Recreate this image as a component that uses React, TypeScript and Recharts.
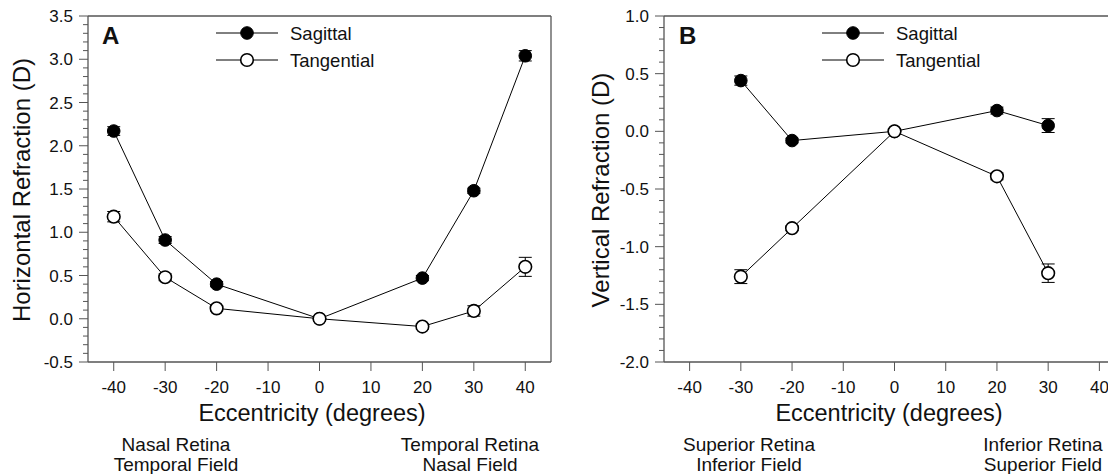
import React from 'react';
import { LineChart, Line, XAxis, YAxis, ErrorBar, ReferenceLine } from 'recharts';

const FONT = '"Liberation Sans", Arial, Helvetica, sans-serif';
const AXIS = '#555555';
const INK = '#111111';

// Panel A: horizontal refraction
const eccentricityA = [-40, -30, -20, 0, 20, 30, 40];
const sagittalA = [2.17, 0.91, 0.4, 0.0, 0.47, 1.48, 3.04];
const sagittalAErr = [0.05, 0.04, 0.03, 0.01, 0.03, 0.03, 0.06];
const tangentialA = [1.18, 0.48, 0.12, 0.0, -0.09, 0.09, 0.6];
const tangentialAErr = [0.06, 0.04, 0.03, 0.02, 0.03, 0.06, 0.11];

// Panel B: vertical refraction
const eccentricityB = [-30, -20, 0, 20, 30];
const sagittalB = [0.44, -0.08, 0.0, 0.18, 0.05];
const sagittalBErr = [0.04, 0.02, 0.01, 0.03, 0.06];
const tangentialB = [-1.26, -0.84, 0.0, -0.39, -1.23];
const tangentialBErr = [0.06, 0.02, 0.02, 0.03, 0.08];

const xTicks = [-40, -30, -20, -10, 0, 10, 20, 30, 40];
const yTicksA = [
  3.5, 3.4, 3.3, 3.2, 3.1, 3.0, 2.9, 2.8, 2.7, 2.6, 2.5, 2.4, 2.3, 2.2, 2.1, 2.0,
  1.9, 1.8, 1.7, 1.6, 1.5, 1.4, 1.3, 1.2, 1.1, 1.0, 0.9, 0.8, 0.7, 0.6, 0.5, 0.4,
  0.3, 0.2, 0.1, 0.0, -0.1, -0.2, -0.3, -0.4, -0.5,
];
const yTicksB = [
  1.0, 0.9, 0.8, 0.7, 0.6, 0.5, 0.4, 0.3, 0.2, 0.1, 0.0, -0.1, -0.2, -0.3, -0.4, -0.5,
  -0.6, -0.7, -0.8, -0.9, -1.0, -1.1, -1.2, -1.3, -1.4, -1.5, -1.6, -1.7, -1.8, -1.9, -2.0,
];

const buildRows = (ecc: number[], s: number[], se: number[], t: number[], te: number[]) =>
  ecc.map((x, i) => ({ x, sag: s[i], sagErr: se[i], tan: t[i], tanErr: te[i] }));

const dataA = buildRows(eccentricityA, sagittalA, sagittalAErr, tangentialA, tangentialAErr);
const dataB = buildRows(eccentricityB, sagittalB, sagittalBErr, tangentialB, tangentialBErr);

const YTick = (props: any) => {
  const { x, y, payload } = props;
  const v = Number(payload.value);
  const major = Math.abs(v * 2 - Math.round(v * 2)) < 1e-6;
  return (
    <g>
      <line x1={x - (major ? 9 : 5)} x2={x} y1={y} y2={y} stroke={AXIS} strokeWidth={1} />
      {major && (
        <text x={x - 15} y={y} dy={6} textAnchor="end" fontSize={17} fontFamily={FONT} fill={INK}>
          {v.toFixed(1)}
        </text>
      )}
    </g>
  );
};

const XTick = (props: any) => {
  const { x, y, payload } = props;
  return (
    <g>
      <line x1={x} x2={x} y1={y} y2={y + 9} stroke={AXIS} strokeWidth={1} />
      <text x={x} y={y + 31} textAnchor="middle" fontSize={17} fontFamily={FONT} fill={INK}>
        {payload.value}
      </text>
    </g>
  );
};

const Panel = ({ data, yTicks, yDomain, yAxisWidth, width }: any) => (
  <LineChart width={width} height={474} data={data} margin={{ top: 16, right: 9, left: 0, bottom: 0 }}>
    <XAxis
      type="number"
      dataKey="x"
      domain={[-45, 45]}
      ticks={xTicks}
      interval={0}
      height={112}
      tickSize={0}
      tickMargin={0}
      tickLine={false}
      tick={<XTick />}
      axisLine={{ stroke: AXIS, strokeWidth: 1.3 }}
    />
    <YAxis
      type="number"
      domain={yDomain}
      ticks={yTicks}
      interval={0}
      width={yAxisWidth}
      tickSize={0}
      tickMargin={0}
      tickLine={false}
      tick={<YTick />}
      axisLine={{ stroke: AXIS, strokeWidth: 1.3 }}
    />
    <ReferenceLine y={yDomain[1]} stroke={AXIS} strokeWidth={1.3} />
    <ReferenceLine x={45} stroke={AXIS} strokeWidth={1.3} />
    <Line
      type="linear"
      dataKey="sag"
      stroke="#000"
      strokeWidth={1}
      dot={{ r: 6.3, fill: '#000', stroke: '#000', strokeWidth: 1 }}
      activeDot={false}
      isAnimationActive={false}
    >
      <ErrorBar dataKey="sagErr" direction="y" width={6.5} stroke="#000" strokeWidth={1} isAnimationActive={false} />
    </Line>
    <Line
      type="linear"
      dataKey="tan"
      stroke="#000"
      strokeWidth={1}
      dot={{ r: 6.3, fill: '#fff', stroke: '#000', strokeWidth: 1.6 }}
      activeDot={false}
      isAnimationActive={false}
    >
      <ErrorBar dataKey="tanErr" direction="y" width={6.5} stroke="#000" strokeWidth={1} isAnimationActive={false} />
    </Line>
  </LineChart>
);

const LegendItem = ({ x, y, filled, label }: any) => (
  <g>
    <line x1={x - 31} x2={x + 31} y1={y} y2={y} stroke="#000" strokeWidth={1} />
    <circle cx={x} cy={y} r={6.3} fill={filled ? '#000' : '#fff'} stroke="#000" strokeWidth={filled ? 1 : 1.6} />
    <text x={x + 43} y={y + 6.5} fontSize={18.5} fontFamily={FONT} fill={INK}>
      {label}
    </text>
  </g>
);

const TwoLine = ({ cx, a, b }: any) => (
  <g>
    <text x={cx} y={451} textAnchor="middle" fontSize={19} fontFamily={FONT} fill={INK}>
      {a}
    </text>
    <text x={cx} y={471} textAnchor="middle" fontSize={19} fontFamily={FONT} fill={INK}>
      {b}
    </text>
  </g>
);

export default function App() {
  return (
    <div
      style={{
        position: 'relative',
        width: 1116,
        height: 474,
        marginLeft: -8,
        marginTop: -8,
        overflow: 'hidden',
        background: '#fff',
      }}
    >
      <div style={{ position: 'absolute', left: 0, top: 0 }}>
        <Panel data={dataA} yTicks={yTicksA} yDomain={[-0.5, 3.5]} yAxisWidth={88} width={560} />
      </div>
      <div style={{ position: 'absolute', left: 556, top: 0 }}>
        <Panel data={dataB} yTicks={yTicksB} yDomain={[-2.0, 1.0]} yAxisWidth={108} width={578} />
      </div>
      <svg
        width={1116}
        height={474}
        style={{ position: 'absolute', left: 0, top: 0, pointerEvents: 'none' }}
      >
        {/* Panel letters */}
        <text x={102} y={44} fontSize={24} fontWeight="bold" fontFamily={FONT} fill={INK}>
          A
        </text>
        <text x={679} y={44} fontSize={24} fontWeight="bold" fontFamily={FONT} fill={INK}>
          B
        </text>

        {/* Legends */}
        <LegendItem x={247} y={33} filled label="Sagittal" />
        <LegendItem x={247} y={60} filled={false} label="Tangential" />
        <LegendItem x={853} y={33} filled label="Sagittal" />
        <LegendItem x={853} y={60} filled={false} label="Tangential" />

        {/* Y axis titles */}
        <text
          x={0}
          y={0}
          transform="translate(30 190) rotate(-90)"
          textAnchor="middle"
          fontSize={24}
          fontFamily={FONT}
          fill={INK}
        >
          Horizontal Refraction (D)
        </text>
        <text
          x={0}
          y={0}
          transform="translate(609 190) rotate(-90)"
          textAnchor="middle"
          fontSize={24}
          fontFamily={FONT}
          fill={INK}
        >
          Vertical Refraction (D)
        </text>

        {/* X axis titles */}
        <text x={312} y={421} textAnchor="middle" fontSize={23.5} fontFamily={FONT} fill={INK}>
          Eccentricity (degrees)
        </text>
        <text x={889} y={421} textAnchor="middle" fontSize={23.5} fontFamily={FONT} fill={INK}>
          Eccentricity (degrees)
        </text>

        {/* Retina / field annotations */}
        <TwoLine cx={176} a="Nasal Retina" b="Temporal Field" />
        <TwoLine cx={470} a="Temporal Retina" b="Nasal Field" />
        <TwoLine cx={749} a="Superior Retina" b="Inferior Field" />
        <TwoLine cx={1043} a="Inferior Retina" b="Superior Field" />
      </svg>
    </div>
  );
}
